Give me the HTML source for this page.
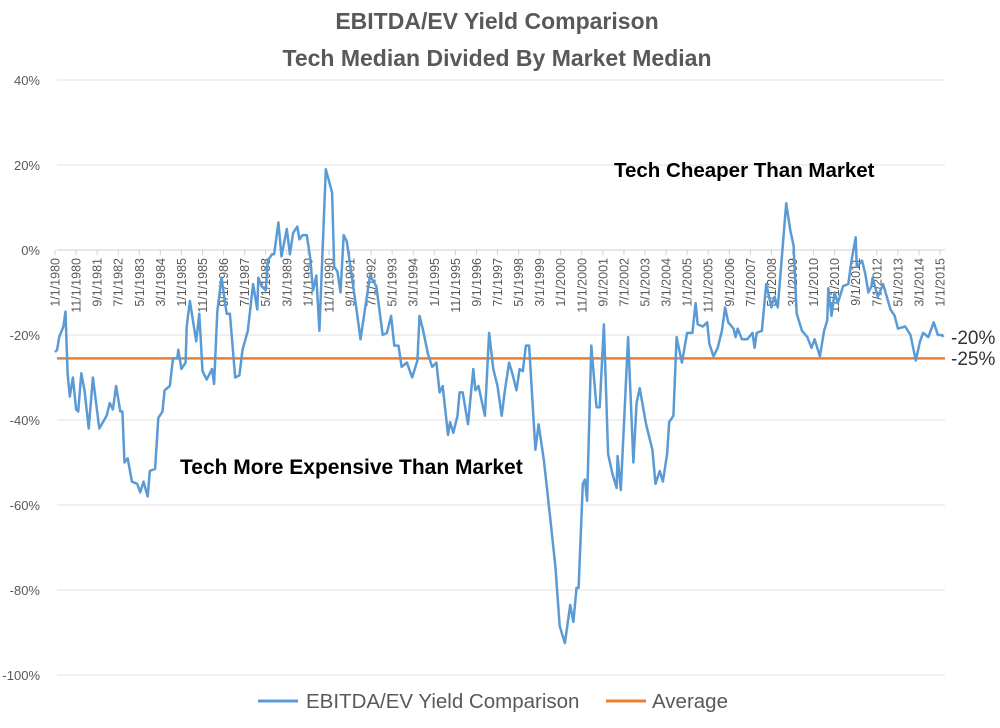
<!DOCTYPE html>
<html><head><meta charset="utf-8"><style>
body{margin:0;background:#fff;width:1000px;height:723px;overflow:hidden;font-family:"Liberation Sans",sans-serif}
</style></head><body>
<svg id="chart" width="1000" height="723" xmlns="http://www.w3.org/2000/svg" font-family="Liberation Sans, sans-serif">
<text x="497" y="29" text-anchor="middle" font-size="23" font-weight="bold" fill="#595959">EBITDA/EV Yield Comparison</text>
<text x="497" y="66" text-anchor="middle" font-size="23" font-weight="bold" fill="#595959">Tech Median Divided By Market Median</text>
<g id="grid"></g><g id="yaxis"></g><g id="xaxis"></g><g id="series"></g>
<text x="614" y="177" font-size="20.5" font-weight="bold" fill="#000">Tech Cheaper Than Market</text>
<text x="180" y="474" font-size="21" font-weight="bold" fill="#000">Tech More Expensive Than Market</text>
<text x="951" y="344" font-size="19" fill="#333">-20%</text>
<text x="951" y="365" font-size="19" fill="#333">-25%</text>
<g>
<line x1="258" y1="701" x2="298" y2="701" stroke="#5b9bd5" stroke-width="3"/>
<text x="306" y="708" font-size="20.5" fill="#595959">EBITDA/EV Yield Comparison</text>
<line x1="606" y1="701" x2="646" y2="701" stroke="#ed7d31" stroke-width="3"/>
<text x="652" y="708" font-size="20.5" fill="#595959">Average</text>
</g>
</svg>
<script>
const yTicks = [40,20,0,-20,-40,-60,-80,-100];
const xTickLabels = ["1/1/1980","11/1/1980","9/1/1981","7/1/1982","5/1/1983","3/1/1984","1/1/1985","11/1/1985","9/1/1986","7/1/1987","5/1/1988","3/1/1989","1/1/1990","11/1/1990","9/1/1991","7/1/1992","5/1/1993","3/1/1994","1/1/1995","11/1/1995","9/1/1996","7/1/1997","5/1/1998","3/1/1999","1/1/2000","11/1/2000","9/1/2001","7/1/2002","5/1/2003","3/1/2004","1/1/2005","11/1/2005","9/1/2006","7/1/2007","5/1/2008","3/1/2009","1/1/2010","11/1/2010","9/1/2011","7/1/2012","5/1/2013","3/1/2014","1/1/2015"];
const months = [0,1,2,4,5,6,7,8.5,10,11,12.5,14,16,18,21,24.5,26,27.5,29,31,32,33,34.5,36.5,39,40.5,42,44,45,47.5,49,51,52,54.5,56,58,58.5,60,62,62.5,64,67,68.5,70,72,74.5,75.5,77,79,81.5,83,85.5,87.5,89,91.5,94,96,96.5,98,100,101,103,104,106,107.5,110,111.5,113,115,116,117.5,119.5,121,122.5,124,125.5,128.5,131.5,132.5,134,135.5,137,138.5,140.5,143.5,145,149.5,152.5,155.5,157.5,159.5,161,163,164.5,167,169.5,172,173,174.5,177,179,181,182.5,184,186.5,187.5,189,191,192,193.5,196,198.5,199.5,201,204,206,208,210,212,213.5,215.5,217,219,220.5,222,223.5,225,228,229.5,232,235,237.5,239.5,242,244.5,246,247.5,248.5,250.5,251.5,252.5,254.5,257,258.5,260.5,262.5,264.5,266.5,267,268.5,272,274.5,276,277.5,280.5,283.5,285,287,288.5,290.5,291.5,293.5,295,297.5,300,302.5,304,305,307.5,309.5,310.5,312.5,314.5,316.5,318,319.5,322,323,324,326,328.5,331,332,333,335.5,337.5,340,341.5,343,347,349,350.5,352,354.5,357,359,360.5,363,365,366.5,367,368.5,370,371.5,374,376.5,378,380,380.5,383,384.5,386,387.5,388,390.5,393,396.5,398.5,400,403.5,406,408.5,410.5,412,414.5,417,419,421,421.5];
const values = [-24,-23.5,-20.5,-18,-14.5,-29,-34.5,-30,-37.5,-38,-29,-33,-42,-30,-42,-39,-36,-37.5,-32,-38,-38,-50,-49,-54.5,-55,-57,-54.5,-58,-52,-51.5,-39.5,-38,-33,-32,-25.5,-25.5,-23.5,-28,-26.5,-18,-12,-21.5,-15,-28.5,-30.5,-28,-31.5,-14.5,-6.5,-15,-15,-30,-29.5,-23.5,-19,-8,-14,-6.5,-8.5,-9.5,-2.5,-1,-1,6.5,-1.5,5,-1,4,5.5,2.5,3.5,3.5,-1.5,-9.5,-6,-19,19,13.5,-4,-5,-10,3.5,2,-5,-15.5,-21,-6,-8.5,-20,-19.5,-15.5,-22.5,-22.5,-27.5,-26.5,-30,-26,-15.5,-18.5,-24.5,-27.5,-26.5,-33.5,-32,-43.5,-40.5,-43,-39,-33.5,-33.5,-41,-28,-33,-32,-39,-19.5,-28,-32,-39,-33,-26.5,-29,-33,-28,-28.5,-22.5,-22.5,-47,-41,-49.5,-63,-74.5,-88.5,-92.5,-83.5,-87.5,-79.5,-79.5,-55,-54,-59,-22.5,-37,-37,-17.5,-48,-52.5,-56,-48.5,-56.5,-20.5,-50,-36,-32.5,-41,-47,-55,-52,-54.5,-48,-40.5,-39,-20.5,-26.5,-19.5,-19.5,-12.5,-17.5,-18,-17,-22,-25,-23,-19,-13.5,-17,-18.5,-20.5,-18.5,-21,-21,-19.5,-23,-19.5,-19,-8,-13.5,-11,-13.5,11,4.5,1,-15,-19,-20.5,-23,-21,-25,-19,-16.5,-9,-15.5,-10,-12.5,-8.5,-8,-2.5,3,-4,-2.5,-5.5,-10,-8.5,-6.5,-11,-8,-14,-15.5,-18.5,-18,-20,-26,-21.5,-19.5,-20.5,-17,-20,-20,-20.5];
const averageValue = [-25.5];

const NS="http://www.w3.org/2000/svg";
const X0=55, X1=940, totalMonths=420, Y0=250, pxPerPct=4.25;
function xScale(m){return X0+m*(X1-X0)/totalMonths;}
function yScale(v){return Y0-v*pxPerPct;}
function mk(tag,attrs,parent){const e=document.createElementNS(NS,tag);for(const k in attrs)e.setAttribute(k,attrs[k]);parent.appendChild(e);return e;}
const grid=document.getElementById('grid'),yaxis=document.getElementById('yaxis'),xaxis=document.getElementById('xaxis'),series=document.getElementById('series');
yTicks.forEach(t=>{
  const l=mk('line',{x1:57,x2:945,y1:yScale(t),y2:yScale(t),stroke:t===0?'#d0d0d0':'#e0e0e0','stroke-width':1},grid);
  
  
  const tx=mk('text',{x:40,y:yScale(t)+5,'text-anchor':'end','font-size':13,fill:'#595959'},yaxis);
  tx.textContent=t+'%';
  
  
});
xTickLabels.forEach((lab,i)=>{
  const x=xScale(i*10);
  const tk=mk('line',{x1:x,x2:x,y1:250,y2:255,stroke:'#d0d0d0'},xaxis);
  
  
  const tx=mk('text',{x:0,y:0,'text-anchor':'end','font-size':12.5,fill:'#595959',transform:'translate('+(x+4.5)+',258) rotate(-90)'},xaxis);
  tx.textContent=lab;
  
  
});
const avg=mk('line',{x1:57,x2:945,y1:yScale(averageValue[0]),y2:yScale(averageValue[0]),stroke:'#ed7d31','stroke-width':2.5},series);


const pts=months.map((m,i)=>xScale(m).toFixed(1)+','+yScale(values[i]).toFixed(1)).join(' ');
const pl=mk('polyline',{points:pts,fill:'none',stroke:'#5b9bd5','stroke-width':2.5,'stroke-linejoin':'round'},series);


</script>
</body></html>
